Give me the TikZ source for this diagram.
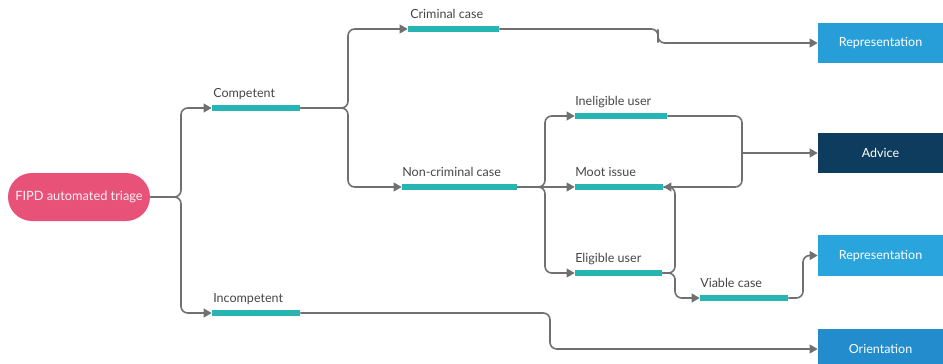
\documentclass[tikz,border=0pt]{standalone}
\usepackage{fontspec}
\setmainfont{Lato}
\usetikzlibrary{arrows.meta}
\definecolor{pill}{RGB}{232,82,120}
\definecolor{teal}{RGB}{38,181,178}
\definecolor{boxblue}{RGB}{40,158,216}
\definecolor{boxblue2}{RGB}{42,164,220}
\definecolor{orblue}{RGB}{34,140,204}
\definecolor{navy}{RGB}{14,60,94}
\definecolor{linegray}{RGB}{112,112,112}
\definecolor{txtgray}{RGB}{70,70,70}
\tikzset{
  barnode/.style={fill=teal, draw=none, inner sep=0pt, minimum height=3.8pt},
  lbl/.style={anchor=base west, inner sep=0pt, text=txtgray, font=\fontsize{9.4}{11}\selectfont},
  conn/.style={draw=linegray, line width=1.2pt, rounded corners=5pt},
  arr/.style={-{Triangle[length=6pt,width=6.5pt]}},
  outbox/.style={draw=none, inner sep=0pt, minimum width=93.75pt, minimum height=30pt, text=white, font=\fontsize{9.4}{11}\selectfont},
}
\begin{document}
\begin{tikzpicture}[x=0.75pt,y=-0.75pt]
\useasboundingbox (0,0) rectangle (943,364);
\clip (0,0) rectangle (943,364);
% start
\node[fill=pill, rounded corners=18pt, minimum width=106.5pt, minimum height=36pt, inner sep=0pt, text=white!92!pill, font=\fontsize{9.6}{11}\selectfont] (trig) at (79,197) {FIPD automated triage};
% bars
\node[barnode, minimum width=66pt] (comp) at (256,108) {};
\node[barnode, minimum width=66pt] (incomp) at (256,313) {};
\node[barnode, minimum width=68.25pt] (crim) at (453.5,29) {};
\node[barnode, minimum width=86.25pt] (noncrim) at (459.5,187) {};
\node[barnode, minimum width=69pt] (inel) at (621,116) {};
\node[barnode, minimum width=66pt] (moot) at (619,187) {};
\node[barnode, minimum width=65.25pt] (elig) at (618.5,273) {};
\node[barnode, minimum width=66pt] (viable) at (744,298) {};
% labels
\node[lbl] (lcomp) at (213,97) {Competent};
\node[lbl] (lincomp) at (213,302) {Incompetent};
\node[lbl] (lcrim) at (410,18) {Criminal case};
\node[lbl] (lnoncrim) at (402,176) {Non-criminal case};
\node[lbl] (linel) at (575,105) {Ineligible user};
\node[lbl] (lmoot) at (575,176) {Moot issue};
\node[lbl] (lelig) at (575,262) {Eligible user};
\node[lbl] (lviable) at (700,287) {Viable case};
% outcome boxes
\node[outbox, fill=boxblue, minimum height=30pt] (rep1) at (880.5,43) {Representation};
\node[outbox, fill=navy, minimum height=30pt] (adv) at (880.5,153) {Advice};
\node[outbox, fill=boxblue2, minimum height=30.75pt] (rep2) at (880.5,255.5) {Representation};
\node[outbox, fill=orblue, minimum height=30pt] (orient) at (880.5,349) {Orientation};
% junctions
\coordinate (b1) at (181,197);
\coordinate (b2) at (348,108);
\coordinate (b3) at (545,187);
\coordinate (b4) at (742,153);
\coordinate (j1) at (658,36);
\coordinate (j2) at (675,285);
\coordinate (j3) at (803,277);
\coordinate (j4) at (550,330);
\coordinate (j5) at (675,230);
% connectors
\draw[conn, arr] (trig.east) -- (b1) |- (comp.west);
\draw[conn, arr] (trig.east) -- (b1) |- (incomp.west);
\draw[conn, arr] (comp.east) -- (b2) |- (crim.west);
\draw[conn, arr] (comp.east) -- (b2) |- (noncrim.west);
\draw[conn, arr] (crim.east) -| (j1) |- (rep1.west);
\draw[conn, arr] (noncrim.east) -- (b3) |- (inel.west);
\draw[conn, arr] (noncrim.east) -- (moot.west);
\draw[conn, arr] (noncrim.east) -- (b3) |- (elig.west);
\draw[conn] (inel.east) -| (b4);
\draw[conn] (moot.east) -| (b4);
\draw[conn, arr] (b4) -- (adv.west);
\draw[conn, arr] (elig.east) -| (j5) |- (moot.east);
\draw[conn, arr] (elig.east) -| (j2) |- (viable.west);
\draw[conn, arr] (viable.east) -| (j3) |- (rep2.west);
\draw[conn, arr] (incomp.east) -| (j4) |- (orient.west);
\end{tikzpicture}
\end{document}
